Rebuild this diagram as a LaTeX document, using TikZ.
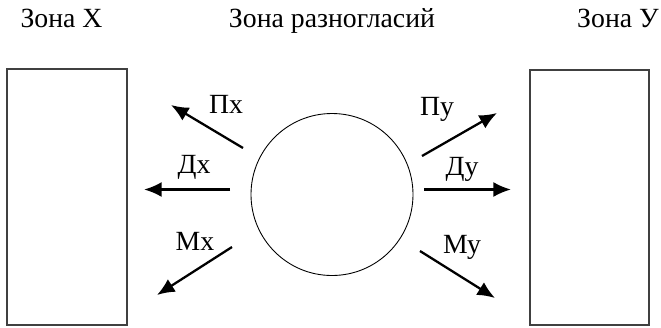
\documentclass[tikz,border=0pt]{standalone}
\usepackage{fontspec}
\setmainfont{Liberation Serif}
\usetikzlibrary{arrows.meta}
\tikzset{
  zone/.style={draw=black!75, line width=0.6pt},
  arr/.style={-{Latex[length=10pt,width=8.5pt]}, line width=1.3pt},
  lbl/.style={anchor=base, font=\fontsize{15.8}{17}\selectfont}
}
\begin{document}
\begin{tikzpicture}[scale=1]
  \useasboundingbox (0,0) rectangle (13.22,6.54);
  % Titles
  \node[lbl] (tx) at (1.23,6.00) {Зона Х};
  \node[lbl] (tm) at (6.64,6.00) {Зона разногласий};
  \node[lbl] (ty) at (12.36,6.00) {Зона У};
  % Zones
  \draw[zone] (0.14,0.04) rectangle (2.54,5.16);
  \draw[zone] (10.60,0.04) rectangle (12.98,5.14);
  % Disagreement
  \node[circle, draw, line width=0.5pt, minimum size=3.24cm, inner sep=0] (disput) at (6.64,2.65) {};
  % Arrow ends
  \coordinate (px1) at (4.86,3.58); \coordinate (px2) at (3.42,4.44);
  \coordinate (dx1) at (4.60,2.75); \coordinate (dx2) at (2.88,2.75);
  \coordinate (mx1) at (4.64,1.60); \coordinate (mx2) at (3.14,0.64);
  \coordinate (py1) at (8.44,3.42); \coordinate (py2) at (9.94,4.28);
  \coordinate (dy1) at (8.48,2.75); \coordinate (dy2) at (10.22,2.75);
  \coordinate (my1) at (8.40,1.52); \coordinate (my2) at (9.90,0.58);
  % Arrows
  \draw[arr] (px1) -- (px2);
  \draw[arr] (dx1) -- (dx2);
  \draw[arr] (mx1) -- (mx2);
  \draw[arr] (py1) -- (py2);
  \draw[arr] (dy1) -- (dy2);
  \draw[arr] (my1) -- (my2);
  % Labels
  \node[lbl] (lpx) at (4.52,4.28) {Пх};
  \node[lbl] (ldx) at (3.88,3.08) {Дх};
  \node[lbl] (lmx) at (3.90,1.54) {Мх};
  \node[lbl] (lpy) at (8.74,4.24) {Пу};
  \node[lbl] (ldy) at (9.24,3.04) {Ду};
  \node[lbl] (lmy) at (9.24,1.48) {Му};
\end{tikzpicture}
\end{document}
